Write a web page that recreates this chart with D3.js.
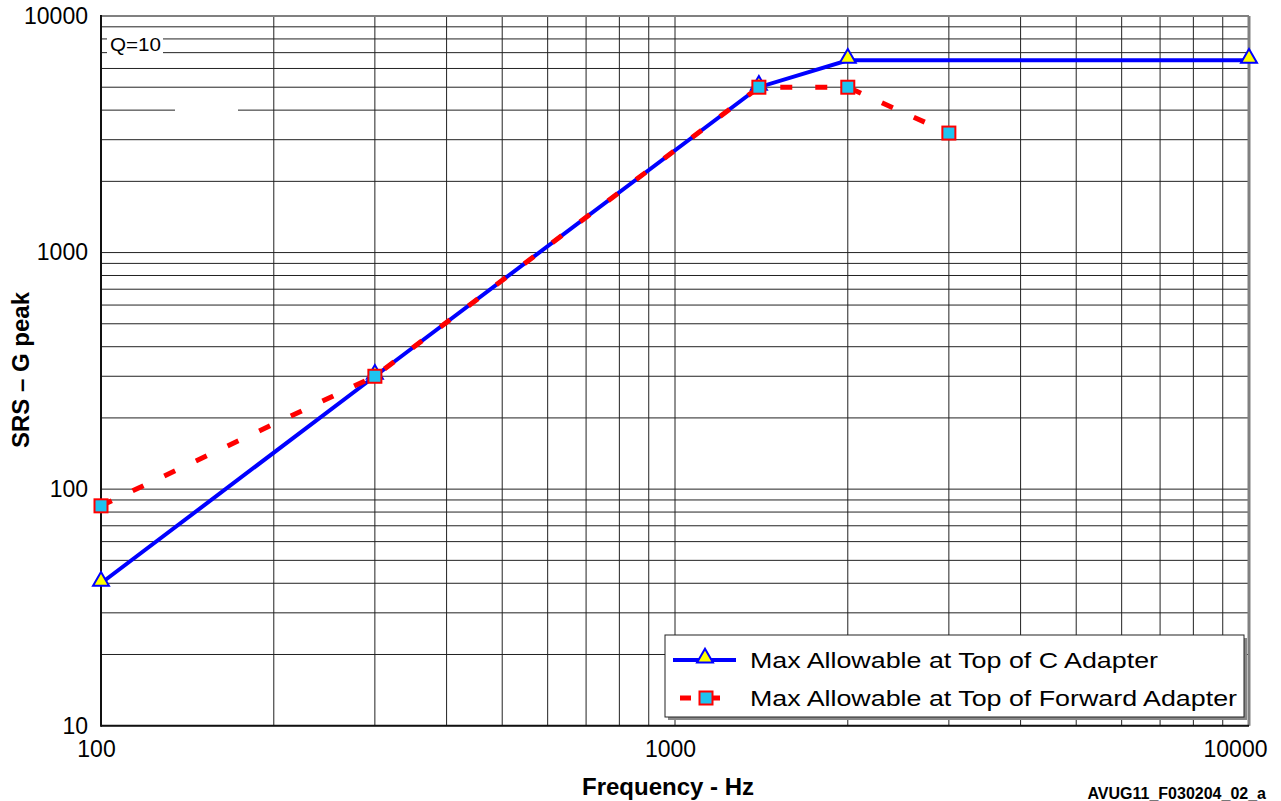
<!DOCTYPE html>
<html><head><meta charset="utf-8">
<script src="https://cdn.jsdelivr.net/npm/d3@7"></script>
<style>
body{margin:0;background:#fff;}
svg{display:block;font-family:"Liberation Sans",Arial,sans-serif;}
</style></head>
<body><svg id="c" width="1281" height="801"></svg>
<script>
// data
const cAdapterFreq = [100, 300, 1400, 2000, 10000];
const cAdapterG    = [40, 300, 5000, 6500, 6500];
const fwdAdapterFreq = [100, 300, 1400, 2000, 3000];
const fwdAdapterG    = [85, 300, 5000, 5000, 3200];
const xTickLabels = [100, 1000, 10000];
const yTickLabels = [10, 100, 1000, 10000];
const seriesNames = ["Max Allowable at Top of C Adapter", "Max Allowable at Top of Forward Adapter"];

const svg = d3.select("#c");
const L = 101, R = 1249, T = 16, B = 725.7;
const x = d3.scaleLog().domain([100, 10000]).range([L, R]);
const y = d3.scaleLog().domain([10, 10000]).range([B, T]);

// grid
const xGrid = x.ticks();
const yGrid = y.ticks();
const g = svg.append("g");
g.selectAll("line.vx").data(xGrid).join("line")
  .attr("x1", d => x(d)).attr("x2", d => x(d)).attr("y1", T).attr("y2", B)
  .attr("stroke", "#222").attr("stroke-width", 1);
g.selectAll("line.hy").data(yGrid).join("line")
  .attr("y1", d => y(d)).attr("y2", d => y(d)).attr("x1", L).attr("x2", R)
  .attr("stroke", "#222").attr("stroke-width", 1);

// white label boxes covering grid
svg.append("rect").attr("x", 107).attr("y", 31).attr("width", 56).attr("height", 24).attr("fill", "#fff");
svg.append("rect").attr("x", 175).attr("y", 96).attr("width", 63).attr("height", 26).attr("fill", "#fff");
svg.append("text").attr("x", 110).attr("y", 51).attr("font-size", 19).attr("fill", "#000")
  .attr("textLength", 51).attr("lengthAdjust", "spacingAndGlyphs").text("Q=10");

// frame
svg.append("line").attr("x1", L).attr("x2", R).attr("y1", T).attr("y2", T).attr("stroke", "#808080").attr("stroke-width", 2);
svg.append("line").attr("x1", R).attr("x2", R).attr("y1", T).attr("y2", B).attr("stroke", "#808080").attr("stroke-width", 3);
svg.append("line").attr("x1", L).attr("x2", L).attr("y1", T - 1).attr("y2", B + 1).attr("stroke", "#111").attr("stroke-width", 2);
svg.append("line").attr("x1", L).attr("x2", R).attr("y1", B).attr("y2", B).attr("stroke", "#111").attr("stroke-width", 2);

// axes labels via d3 axes
const xAxis = d3.axisBottom(x).tickValues(xTickLabels).tickSize(0).tickPadding(0).tickFormat(d3.format("d"));
const xa = svg.append("g").attr("transform", `translate(0,${B})`).call(xAxis);
xa.select(".domain").remove();
xa.selectAll("text").attr("font-size", 23).attr("fill", "#000").attr("font-family", "Liberation Sans, Arial, sans-serif")
  .attr("dy", "0").attr("y", 31)
  .attr("text-anchor", (d, i) => i === xTickLabels.length - 1 ? "end" : "middle")
  .attr("dx", (d, i) => i === xTickLabels.length - 1 ? 18 : -5);

const yAxis = d3.axisLeft(y).tickValues(yTickLabels).tickSize(0).tickPadding(13).tickFormat(d3.format("d"));
const ya = svg.append("g").attr("transform", `translate(${L},0)`).call(yAxis);
ya.select(".domain").remove();
ya.selectAll("text").attr("font-size", 23).attr("fill", "#000").attr("font-family", "Liberation Sans, Arial, sans-serif")
  .attr("dy", "0.32em");

// axis titles
svg.append("text").attr("x", 668).attr("y", 795).attr("text-anchor", "middle")
  .attr("font-size", 24).attr("font-weight", "bold").text("Frequency - Hz");
svg.append("text").attr("transform", "translate(29,370) rotate(-90)").attr("text-anchor", "middle")
  .attr("font-size", 24).attr("font-weight", "bold").text("SRS – G peak");
svg.append("text").attr("x", 1266).attr("y", 799).attr("text-anchor", "end")
  .attr("font-size", 16).attr("font-weight", "bold").text("AVUG11_F030204_02_a");

// series
const cData = cAdapterFreq.map((f, i) => [f, cAdapterG[i]]);
const fData = fwdAdapterFreq.map((f, i) => [f, fwdAdapterG[i]]);
const line = d3.line().x(d => x(d[0])).y(d => y(d[1]));

svg.append("path").datum(cData).attr("d", line).attr("fill", "none")
  .attr("stroke", "#0000ff").attr("stroke-width", 4);
svg.append("path").datum(fData).attr("d", line).attr("fill", "none")
  .attr("stroke", "#ff0000").attr("stroke-width", 5).attr("stroke-dasharray", "12,23");

const tri = d3.symbol().type(d3.symbolTriangle).size(110);
svg.selectAll("path.tri").data(cData).join("path")
  .attr("transform", d => `translate(${x(d[0])},${y(d[1]) - 2})`)
  .attr("d", tri).attr("fill", "#ffff00").attr("stroke", "#0000ff").attr("stroke-width", 2);
svg.selectAll("rect.sq").data(fData).join("rect")
  .attr("x", d => x(d[0]) - 6.5).attr("y", d => y(d[1]) - 6.5).attr("width", 13).attr("height", 13)
  .attr("fill", "#1ec4f0").attr("stroke", "#ff0000").attr("stroke-width", 2);

// legend
const lg = svg.append("g");
lg.append("rect").attr("x", 668).attr("y", 638).attr("width", 579).attr("height", 82).attr("fill", "#888");
lg.append("rect").attr("x", 665).attr("y", 635).attr("width", 579).attr("height", 82).attr("fill", "#fff").attr("stroke", "#222").attr("stroke-width", 1);
const ly = [660, 698];
const lw = [408, 487];
lg.append("line").attr("x1", 673).attr("x2", 736).attr("y1", ly[0]).attr("y2", ly[0]).attr("stroke", "#0000ff").attr("stroke-width", 4);
lg.append("path").attr("transform", `translate(705,${ly[0] - 2})`).attr("d", tri).attr("fill", "#ffff00").attr("stroke", "#0000ff").attr("stroke-width", 2);
lg.append("line").attr("x1", 680).attr("x2", 720).attr("y1", ly[1]).attr("y2", ly[1]).attr("stroke", "#ff0000").attr("stroke-width", 5).attr("stroke-dasharray", "11,18");
lg.append("rect").attr("x", 699.5).attr("y", ly[1] - 6.5).attr("width", 13).attr("height", 13).attr("fill", "#1ec4f0").attr("stroke", "#ff0000").attr("stroke-width", 2);
lg.selectAll("text.lt").data(seriesNames).join("text")
  .attr("x", 750).attr("y", (d, i) => ly[i] + 8).attr("font-size", 22).attr("fill", "#000")
  .attr("textLength", (d, i) => lw[i]).attr("lengthAdjust", "spacingAndGlyphs").text(d => d);
</script></body></html>
